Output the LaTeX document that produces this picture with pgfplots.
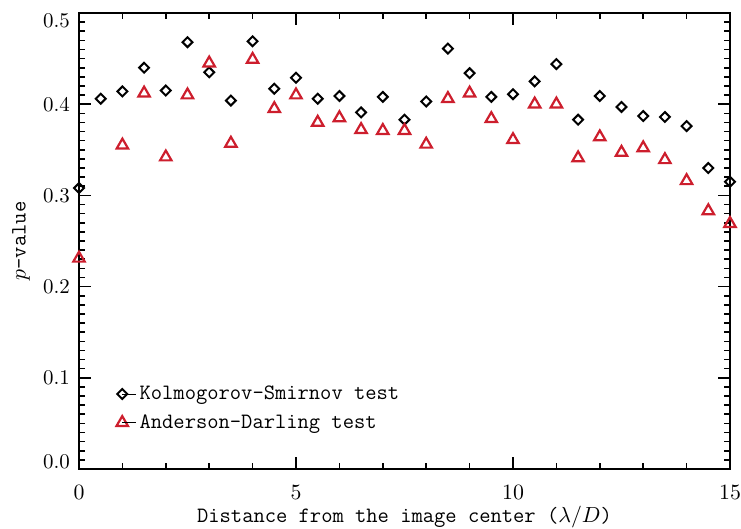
\documentclass[border=0pt]{standalone}
\usepackage{pgfplots}
\pgfplotsset{compat=1.18}
\definecolor{adred}{RGB}{205,30,45}
\newcommand{\up}[2]{\raisebox{#1}[\height][\depth]{#2}}
\begin{document}
\begin{tikzpicture}
\begin{axis}[
  scale only axis,
  width=325.5bp, height=228bp,
  xmin=0, xmax=15, ymin=0, ymax=0.5,
  xtick={0,5,10,15},
  minor x tick num=4,
  ytick={0,0.1,0.2,0.3,0.4,0.5},
  yticklabels={\up{3.5bp}{0.0},0.1,0.2,0.3,0.4,\up{-3.7bp}{0.5}},
  minor y tick num=9,
  tick align=inside,
  major tick length=6bp,
  minor tick length=3bp,
  every tick/.style={black, line width=0.8bp},
  axis line style={line width=1bp},
  tick label style={font=\fontsize{10.5}{12}\selectfont},
  xticklabel style={anchor=center, yshift=-11.5bp},
  yticklabel style={xshift=-1bp},
  xlabel={\fontsize{11}{13}\selectfont\ttfamily Distance from the image center ($\lambda/D$)},
  xlabel style={at={(rel axis cs:0.5,0)}, anchor=center, yshift=-24bp},
  ylabel={\fontsize{11}{13}\selectfont $p$\ttfamily\textendash value},
  ylabel style={at={(axis description cs:-0.089,0.5)}, anchor=center},
  clip=true,
  legend style={at={(rel axis cs:0.057,0.133)}, anchor=west, draw=none, fill=none,
    inner sep=0pt, row sep=3bp,
    nodes={inner sep=1.5bp, font=\fontsize{11}{13}\selectfont\ttfamily}},
  legend cell align=left,
  legend image code/.code={\draw[#1] plot coordinates {(0bp,0bp)}; \path (0bp,0bp) -- (7bp,0bp);},
]
\addplot[only marks, mark=square, mark size=1.75bp, mark options={rotate=45, black, line width=1bp}] coordinates {
(0,0.308) (0.5,0.406) (1,0.414) (1.5,0.440) (2,0.415) (2.5,0.468) (3,0.435)
(3.5,0.404) (4,0.469) (4.5,0.417) (5,0.429) (5.5,0.406) (6,0.409) (6.5,0.391)
(7,0.408) (7.5,0.383) (8,0.403) (8.5,0.461) (9,0.434) (9.5,0.408) (10,0.411)
(10.5,0.425) (11,0.444) (11.5,0.383) (12,0.409) (12.5,0.397) (13,0.387)
(13.5,0.386) (14,0.376) (14.5,0.330) (15,0.315)
};
\addlegendentry{Kolmogorov\textendash Smirnov test}
\addplot[only marks, mark=triangle, mark size=3.3bp, mark options={adred, line width=1.1bp}] coordinates {
(0,0.231) (1,0.355) (1.5,0.412) (2,0.342) (2.5,0.410) (3,0.445) (3.5,0.357)
(4,0.449) (4.5,0.395) (5,0.410) (5.5,0.380) (6,0.385) (6.5,0.372) (7,0.371)
(7.5,0.371) (8,0.356) (8.5,0.406) (9,0.412) (9.5,0.384) (10,0.361) (10.5,0.400)
(11,0.400) (11.5,0.341) (12,0.364) (12.5,0.347) (13,0.352) (13.5,0.339)
(14,0.316) (14.5,0.283) (15,0.269)
};
\addlegendentry{Anderson\textendash Darling test}
\end{axis}
\pgfresetboundingbox
\path[use as bounding box] (-39.5bp,-30bp) rectangle (331bp,234.5bp);
\end{tikzpicture}
\end{document}
